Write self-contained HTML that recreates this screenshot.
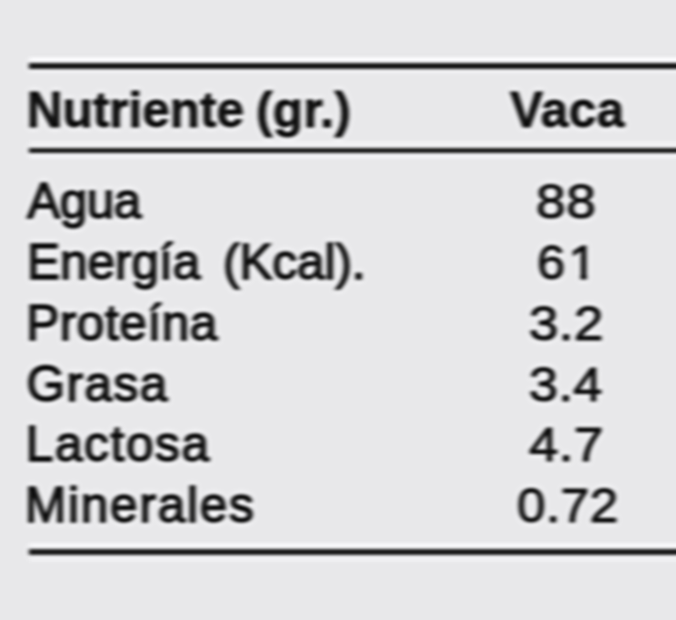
<!DOCTYPE html>
<html><head><meta charset="utf-8">
<style>
html,body{margin:0;padding:0;}
body{width:676px;height:620px;overflow:hidden;background:#e8e8ea;position:relative;
font-family:"Liberation Sans",Arial,Helvetica,sans-serif;color:#151515;-webkit-text-stroke:1.6px #151515;}
#all{position:absolute;left:-20px;top:-20px;width:716px;height:660px;background:#e8e8ea;filter:url(#soft);}
#in{position:absolute;left:20px;top:20px;width:676px;height:620px;}
.line{position:absolute;left:29px;width:667px;}
.t{position:absolute;white-space:nowrap;font-size:49.5px;line-height:1;}
.one{display:inline-block;position:relative;left:2.9px;clip-path:polygon(0 0,100% 0,100% 35.0px,16.95px 35.0px,16.95px 100%,11.2px 100%,11.2px 35.0px,0 35.0px);}
.n{-webkit-text-stroke-width:1.1px;}
.b{font-weight:bold;-webkit-text-stroke-width:0.8px;}
</style></head><body><svg width="0" height="0" style="position:absolute"><filter id="soft" x="0" y="0" width="100%" height="100%" color-interpolation-filters="sRGB"><feGaussianBlur in="SourceGraphic" stdDeviation="1.9 1.4" result="b1"/><feGaussianBlur in="SourceGraphic" stdDeviation="3.0" result="b2"/><feComposite in="b1" in2="b2" operator="arithmetic" k1="0" k2="1.3" k3="-0.3" k4="0"/></filter></svg><div id="all"><div id="in">
<div class="line" style="top:56.6px;height:4px;background:#f4f4f6"></div>
<div class="line" style="top:542.6px;height:3.6px;background:#f3f3f5"></div>
<div class="line" style="top:140.6px;height:3px;background:#eeeef0"></div>
<div class="line" style="top:155.8px;height:3.6px;background:#eeeef0"></div>
<div class="line" style="top:558.8px;height:3.4px;background:#eeeef0"></div>
<div class="line" style="top:63.2px;height:6px;background:#262626"></div>
<div class="line" style="top:147.9px;height:5.6px;background:#2c2c2c"></div>
<div class="line" style="top:549.1px;height:5.6px;background:#2a2a2a"></div>
<div class="t b" style="left:26.7px;top:85.10px;letter-spacing:-0.0px;">Nutriente</div>
<div class="t b" style="left:256.0px;top:85.10px;letter-spacing:0.35px;">(gr.)</div>
<div class="t b" style="left:510.0px;top:85.10px;letter-spacing:0.45px;">Vaca</div>
<div class="t" style="left:27.3px;top:176.10px;letter-spacing:-0.57px;">Agua</div>
<div class="t" style="left:27.0px;top:237.10px;letter-spacing:-0.01px;">Energía</div>
<div class="t" style="left:223.0px;top:237.10px;letter-spacing:-0.07px;">(Kcal).</div>
<div class="t" style="left:26.2px;top:298.10px;letter-spacing:0.58px;">Proteína</div>
<div class="t" style="left:26.5px;top:359.10px;letter-spacing:1.47px;">Grasa</div>
<div class="t" style="left:25.8px;top:419.10px;letter-spacing:1.63px;">Lactosa</div>
<div class="t" style="left:25.0px;top:480.10px;letter-spacing:1.78px;">Minerales</div>
<div class="t n" style="left:536.06px;top:177.79px;letter-spacing:0.5px;font-size:47.5px;transform:scaleX(1.1205);transform-origin:0 0;">88</div>
<div class="t n" style="left:536.66px;top:238.79px;letter-spacing:0.5px;font-size:47.5px;transform:scaleX(1.0627);transform-origin:0 0;">6<span class="one">1</span></div>
<div class="t n" style="left:528.87px;top:299.79px;letter-spacing:0.5px;font-size:47.5px;transform:scaleX(1.1096);transform-origin:0 0;">3.2</div>
<div class="t n" style="left:529.22px;top:360.79px;letter-spacing:0.5px;font-size:47.5px;transform:scaleX(1.0925);transform-origin:0 0;">3.4</div>
<div class="t n" style="left:528.78px;top:420.79px;letter-spacing:0.5px;font-size:47.5px;transform:scaleX(1.1082);transform-origin:0 0;">4.7</div>
<div class="t n" style="left:517.24px;top:481.79px;letter-spacing:0.5px;font-size:47.5px;transform:scaleX(1.0762);transform-origin:0 0;">0.72</div>
</div></div></body></html>
